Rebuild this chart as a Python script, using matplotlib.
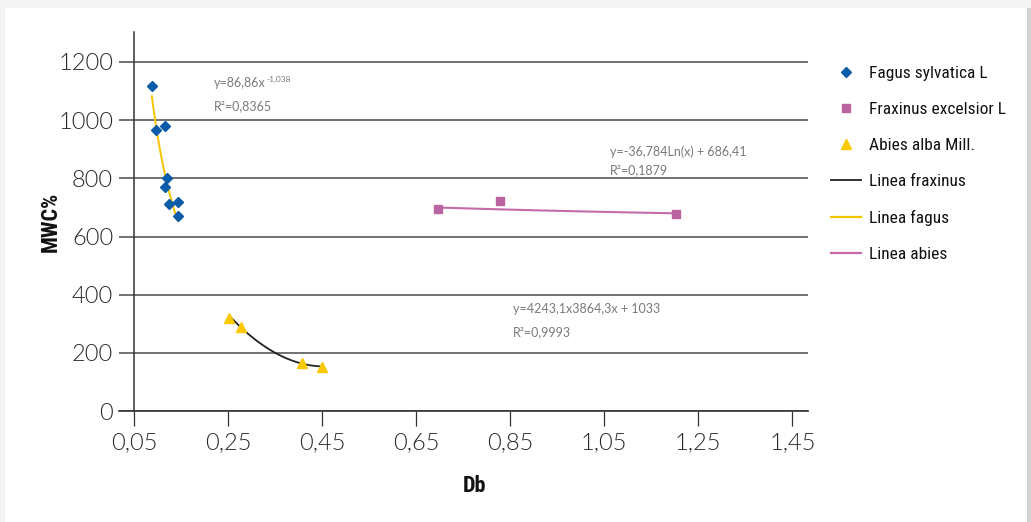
import matplotlib
matplotlib.use("Agg")
import matplotlib.pyplot as plt
import numpy as np
from matplotlib import font_manager as fm
from matplotlib.font_manager import FontProperties
from matplotlib.lines import Line2D
from matplotlib.patches import Rectangle

# ---- data -------------------------------------------------------------
fagus_db = [0.088, 0.097, 0.116, 0.121, 0.116, 0.124, 0.143, 0.143]
fagus_mwc = [1117, 966, 981, 802, 769, 711, 719, 672]

fraxinus_db = [0.697, 0.828, 1.202]
fraxinus_mwc = [693, 722, 676]

abies_db = [0.253, 0.277, 0.408, 0.450]
abies_mwc = [319, 288, 164, 150]

# trend-line coefficients (as printed next to each curve)
fagus_coef = (86.86, -1.038)               # y = a * x^b
fraxinus_coef = (-36.784, 686.41)          # y = a * ln(x) + b
abies_coef = (4243.1, -3864.3, 1033.0)     # y = a x^2 + b x + c

x_ticks = [0.05, 0.25, 0.45, 0.65, 0.85, 1.05, 1.25, 1.45]
y_ticks = [0, 200, 400, 600, 800, 1000, 1200]

# ---- fonts ------------------------------------------------------------
names = {f.name for f in fm.fontManager.ttflist}
thin = "Lato" if "Lato" in names else "DejaVu Sans"


def condensed_font(bold):
    """Pick the narrowest installed sans face, regular or bold."""
    def weight_of(f):
        return f.weight if isinstance(f.weight, int) else fm.weight_dict.get(f.weight, 400)

    order = ["Liberation Sans Narrow", "Roboto Condensed", "Open Sans Condensed",
             "Noto Sans", "Open Sans", "Roboto", "DejaVu Sans"]
    for fam in order:
        for f in fm.fontManager.ttflist:
            if f.name != fam or f.style != "normal":
                continue
            stretch = str(f.stretch)
            if "extra" in stretch or "ultra" in stretch:
                continue
            narrow_face = "Narrow" in fam or "Condensed" in fam or "condensed" in stretch
            w = weight_of(f)
            ok = w >= 600 if bold else 380 <= w <= 520
            if narrow_face and ok:
                return FontProperties(fname=f.fname)
    return FontProperties(family="DejaVu Sans", stretch="condensed",
                          weight="bold" if bold else "normal")


narrow_reg = condensed_font(False)
narrow_bold = condensed_font(True)

W, H = 1031, 522
fig = plt.figure(figsize=(W / 100, H / 100), dpi=100, facecolor="#f4f4f4")

# white card with a soft right-hand shadow
fig.patches.append(Rectangle((1027 / W, 0), 4 / W, (H - 8) / H, transform=fig.transFigure,
                             facecolor="#d2d2d2", edgecolor="none", zorder=-3))
fig.patches.append(Rectangle((5 / W, 0), 1022 / W, (H - 8) / H, transform=fig.transFigure,
                             facecolor="white", edgecolor="none", zorder=-2))

left, right, top, bottom = 119, 808, 32, 411
ax = fig.add_axes([left / W, (H - bottom) / H, (right - left) / W, (bottom - top) / H])
ax.set_facecolor("none")

px_per_x = 470.2
ax.set_xlim(0.05 - 15 / px_per_x, 0.05 + (right - 134) / px_per_x)
ax.set_ylim(0, (bottom - top) / ((bottom - 62) / 1200))

# spines / grid
for s in ("top", "right"):
    ax.spines[s].set_visible(False)
ax.spines["left"].set_position(("data", 0.05))
ax.spines["left"].set_color("#333333")
ax.spines["left"].set_linewidth(1.1)
ax.spines["bottom"].set_color("#333333")
ax.spines["bottom"].set_linewidth(1.2)

ax.set_yticks(y_ticks)
ax.set_yticklabels([str(v) for v in y_ticks])
ax.set_xticks(x_ticks)
ax.set_xticklabels([f"{v:.2f}".replace(".", ",") for v in x_ticks])
ax.tick_params(axis="y", length=0, pad=15, labelsize=17, labelcolor="#2a2a2a")
ax.tick_params(axis="x", length=10.8, width=0.9, color="#333333", direction="out",
               pad=4, labelsize=17, labelcolor="#2a2a2a")
for lab in ax.get_xticklabels() + ax.get_yticklabels():
    lab.set_fontfamily(thin)
    lab.set_fontweight(300)
ax.yaxis.grid(True, color="#4a4a4a", linewidth=1.1)
ax.set_axisbelow(True)

# ---- trend lines ------------------------------------------------------
xf = np.linspace(min(fagus_db), max(fagus_db), 100)
ax.plot(xf, fagus_coef[0] * xf ** fagus_coef[1], color="#f5c400", lw=1.4, zorder=3)

xa = np.linspace(min(abies_db) + 0.004, max(abies_db), 100)
ax.plot(xa, abies_coef[0] * xa ** 2 + abies_coef[1] * xa + abies_coef[2],
        color="#222222", lw=1.3, zorder=3)

xr = np.linspace(min(fraxinus_db), max(fraxinus_db), 100)
ax.plot(xr, fraxinus_coef[0] * np.log(xr) + fraxinus_coef[1],
        color="#c46aa8", lw=1.5, zorder=3)

# ---- points -----------------------------------------------------------
ax.plot(fagus_db, fagus_mwc, ls="none", marker="D", ms=5.2, color="#0b5ca8", zorder=4)
ax.plot(fraxinus_db, fraxinus_mwc, ls="none", marker="s", ms=6.3, color="#bb64a2", zorder=4)
ax.plot(abies_db, abies_mwc, ls="none", marker="^", ms=7.4, color="#fcc800", zorder=4)

# ---- equations --------------------------------------------------------
eq_kw = dict(fontsize=9, color="#7a7a7a", family=thin, fontweight="normal",
             ha="left", va="center")
t = ax.text(0.2201, 1128, "y=86,86x", **eq_kw)
ax.annotate("-1,038", xy=(1, 1), xycoords=t, xytext=(0.5, 1), textcoords="offset points",
            fontsize=6, color="#7a7a7a", family=thin, ha="left", va="top")
ax.text(0.2201, 1049, "R²=0,8365", **eq_kw)
ax.text(1.0623, 891, "y=-36,784Ln(x) + 686,41", **eq_kw)
ax.text(1.0623, 829, "R²=0,1879", **eq_kw)
ax.text(0.856, 351, "y=4243,1x3864,3x + 1033", **eq_kw)
ax.text(0.856, 272, "R²=0,9993", **eq_kw)

# ---- axis titles ------------------------------------------------------
title_fp = narrow_bold.copy()
title_fp.set_size(16)
ax.set_ylabel("MWC%", fontproperties=title_fp, color="#111111")
ax.yaxis.label.set_va("center")
ax.yaxis.set_label_coords((51 - left) / (right - left), 0.5)
ax.set_xlabel("Db", fontproperties=title_fp, color="#111111")
ax.xaxis.label.set_va("center")
ax.xaxis.set_label_coords((474 - left) / (right - left), (bottom - 486) / (bottom - top))

# ---- legend -----------------------------------------------------------
handles = [
    Line2D([], [], ls="none", marker="D", ms=5.2, color="#0b5ca8"),
    Line2D([], [], ls="none", marker="s", ms=6.3, color="#bb64a2"),
    Line2D([], [], ls="none", marker="^", ms=7.4, color="#fcc800"),
    Line2D([], [], color="#222222", lw=1.3),
    Line2D([], [], color="#f5c400", lw=1.6),
    Line2D([], [], color="#c46aa8", lw=1.6),
]
labels = ["Fagus sylvatica L", "Fraxinus excelsior L", "Abies alba Mill.",
          "Linea fraxinus", "Linea fagus", "Linea abies"]
leg_fp = narrow_reg.copy()
leg_fp.set_size(12.5)
fig.legend(handles, labels, loc="upper left", bbox_to_anchor=(831 / W, 1 - 66 / H),
           frameon=False, borderpad=0, borderaxespad=0, handlelength=1.74,
           handletextpad=0.47, labelspacing=1.2, prop=leg_fp, labelcolor="#111111")

fig.savefig("out.png", dpi=100, facecolor=fig.get_facecolor())
